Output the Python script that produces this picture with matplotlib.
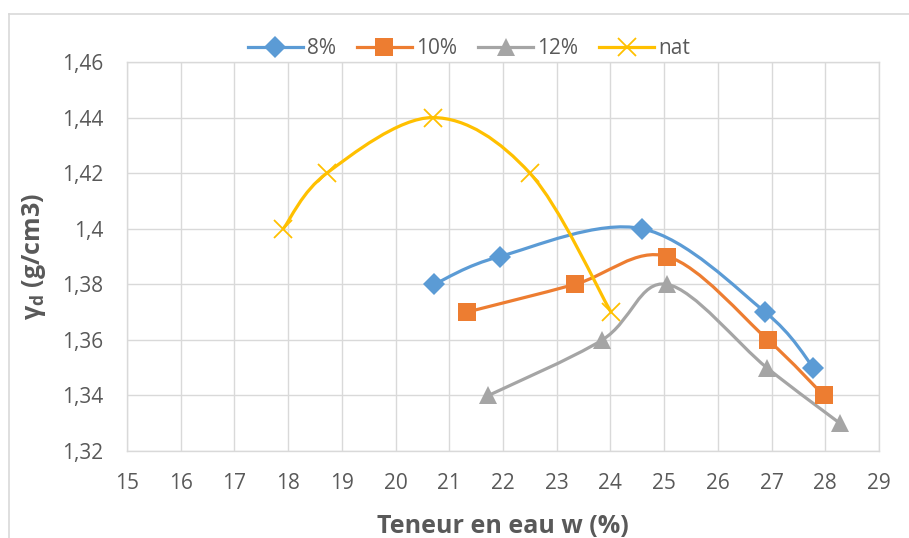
import matplotlib
matplotlib.use("Agg")
import matplotlib.pyplot as plt
import numpy as np
from matplotlib.path import Path
from matplotlib.patches import PathPatch
from matplotlib.lines import Line2D

plt.rcParams['font.family'] = ['Open Sans', 'DejaVu Sans']
plt.rcParams['mathtext.fontset'] = 'custom'
plt.rcParams['mathtext.rm'] = 'Open Sans:bold'
plt.rcParams['mathtext.it'] = 'Open Sans:bold'
plt.rcParams['mathtext.bf'] = 'Open Sans:bold'

# Water content (%) and dry density (g/cm3) for each series
w_8 = [20.72, 21.94, 24.59, 26.88, 27.78]
gd_8 = [1.38, 1.39, 1.40, 1.37, 1.35]

w_10 = [21.33, 23.34, 25.06, 26.93, 27.97]
gd_10 = [1.37, 1.38, 1.39, 1.36, 1.34]

w_12 = [21.73, 23.85, 25.05, 26.91, 28.27]
gd_12 = [1.34, 1.36, 1.38, 1.35, 1.33]

w_nat = [17.91, 18.72, 20.69, 22.50, 24.01]
gd_nat = [1.40, 1.42, 1.44, 1.42, 1.37]

series_labels = ["8%", "10%", "12%", "nat"]
x_ticks = list(range(15, 30))
y_ticks = [1.32, 1.34, 1.36, 1.38, 1.40, 1.42, 1.44, 1.46]
y_tick_labels = ["1,32", "1,34", "1,36", "1,38", "1,4", "1,42", "1,44", "1,46"]

colors = ["#5B9BD5", "#ED7D31", "#A5A5A5", "#FFC000"]
markers = ["D", "s", "^", "x"]
msizes = [11, 12.5, 12.5, 13]

GRAY = "#595959"
GRID = "#D9D9D9"


def smooth_path(xs, ys):
    """Cubic Bezier path through the points (cardinal spline, 1/6 tangents)."""
    p = np.column_stack([xs, ys]).astype(float)
    n = len(p)
    verts = [p[0]]
    codes = [Path.MOVETO]
    for i in range(n - 1):
        p0 = p[i - 1] if i > 0 else p[i]
        p1 = p[i]
        p2 = p[i + 1]
        p3 = p[i + 2] if i + 2 < n else p[i + 1]
        c1 = p1 + (p2 - p0) / 6.0
        c2 = p2 - (p3 - p1) / 6.0
        verts += [c1, c2, p2]
        codes += [Path.CURVE4] * 3
    return Path(verts, codes)


fig = plt.figure(figsize=(9.09, 5.38), dpi=100)
ax = fig.add_axes([127 / 909, 1 - 451 / 538, (879 - 127) / 909, (451 - 62) / 538])

data = [(w_8, gd_8), (w_10, gd_10), (w_12, gd_12), (w_nat, gd_nat)]
handles = []
for (xs, ys), c, m, ms, lab in zip(data, colors, markers, msizes, series_labels):
    path = smooth_path(xs, ys)
    ax.add_patch(PathPatch(path, fill=False, edgecolor=c, lw=2.3,
                           capstyle='round', joinstyle='round', zorder=3))
    mew = 1.3 if m == "x" else 0
    ax.plot(xs, ys, linestyle='none', marker=m, ms=ms, mew=mew,
            color=c, zorder=4)
    handles.append(Line2D([], [], color=c, lw=2.3, marker=m, ms=ms,
                          mew=mew, label=lab))

ax.set_xlim(15, 29)
ax.set_ylim(1.32, 1.46)
ax.set_xticks(x_ticks)
ax.set_xticklabels([str(v) for v in x_ticks])
ax.set_yticks(y_ticks)
ax.set_yticklabels(y_tick_labels)
ax.grid(True, color=GRID, lw=1.0)
ax.set_axisbelow(True)
for s in ax.spines.values():
    s.set_color(GRID)
    s.set_linewidth(1.0)
ax.tick_params(length=0, labelsize=15, labelcolor=GRAY)
ax.tick_params(axis='x', pad=16)
ax.tick_params(axis='y', pad=17)

ax.set_xlabel("Teneur en eau w (%)", fontsize=18, fontweight='bold',
              color=GRAY, labelpad=14)
ax.set_ylabel(r"γ$_\mathregular{d}$ (g/cm3)", fontsize=18, fontweight='bold',
              color=GRAY, labelpad=10)

leg = fig.legend(handles=handles, loc='center', bbox_to_anchor=(469 / 909, 1 - 49 / 538),
                 ncol=4, frameon=False, fontsize=15, handlelength=2.65,
                 columnspacing=1.0, handletextpad=0.2, borderpad=0)
for t in leg.get_texts():
    t.set_color(GRAY)

# chart frame edges
fig.add_artist(Line2D([9 / 909, 9 / 909], [0, 1 - 14 / 538], color=GRID, lw=1.2,
                      transform=fig.transFigure))
fig.add_artist(Line2D([9 / 909, 1], [1 - 14 / 538, 1 - 14 / 538], color=GRID, lw=1.2,
                      transform=fig.transFigure))

fig.savefig("out.png", dpi=100)
